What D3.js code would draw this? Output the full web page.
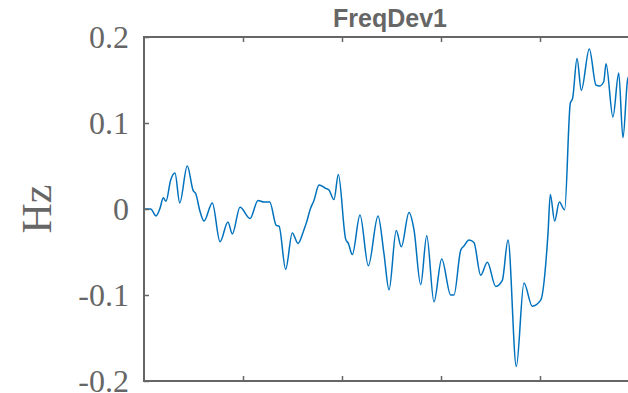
<!DOCTYPE html>
<html>
<head>
<meta charset="utf-8">
<script src="https://cdn.jsdelivr.net/npm/d3@7"></script>
<style>
  html, body { margin: 0; padding: 0; background: #fff; overflow: hidden; }
  svg { display: block; }
</style>
</head>
<body>
<svg id="chart" width="628" height="393"></svg>
<script>
// ---- data ----
const title = "FreqDev1";
const yLabel = "Hz";
const yTicks = [-0.2, -0.1, 0, 0.1, 0.2];
const yTickLabels = ["-0.2", "-0.1", "0", "0.1", "0.2"];
const xTicks = [1, 2, 3, 4];
const timeValues = [
  0, 0.068, 0.121, 0.162, 0.195, 0.222, 0.270, 0.313, 0.361, 0.437,
  0.498, 0.522, 0.566, 0.606, 0.690, 0.768, 0.848, 0.892, 0.970, 1.071,
  1.152, 1.212, 1.270, 1.336, 1.364, 1.431, 1.498, 1.556, 1.616, 1.643,
  1.677, 1.717, 1.768, 1.835, 1.869, 1.919, 1.963, 2.037, 2.064, 2.104,
  2.182, 2.266, 2.364, 2.424, 2.475, 2.548, 2.599, 2.677, 2.727, 2.795,
  2.856, 2.929, 3.007, 3.098, 3.131, 3.199, 3.232, 3.283, 3.333, 3.401,
  3.468, 3.553, 3.619, 3.677, 3.761, 3.838, 3.922, 4.007, 4.081, 4.104,
  4.148, 4.195, 4.249, 4.306, 4.330, 4.374, 4.417, 4.498, 4.566, 4.599,
  4.644, 4.667, 4.737, 4.795, 4.838, 4.886, 4.930
];
const freqDev = [
  0, 0, -0.008, 0.001, 0.013, 0.009, 0.034, 0.042, 0.007, 0.050,
  0.021, 0.018, -0.003, -0.014, 0.007, -0.038, -0.015, -0.029, 0.002, -0.011,
  0.010, 0.008, 0.008, -0.019, -0.020, -0.070, -0.028, -0.040, -0.024, -0.015,
  -0.001, 0.010, 0.028, 0.024, 0.022, 0.011, 0.040, -0.035, -0.040, -0.053,
  -0.007, -0.066, -0.008, -0.052, -0.094, -0.025, -0.044, -0.004, -0.024, -0.088,
  -0.031, -0.108, -0.058, -0.100, -0.100, -0.048, -0.043, -0.036, -0.039, -0.077,
  -0.062, -0.090, -0.083, -0.036, -0.183, -0.086, -0.113, -0.106, -0.028, 0.017,
  -0.014, 0.008, -0.001, 0.123, 0.129, 0.175, 0.138, 0.186, 0.144, 0.143,
  0.148, 0.169, 0.107, 0.158, 0.083, 0.151, 0.160
];

// ---- layout ----
const svg = d3.select("#chart");
const mLeft = 144, mRight = 639, mTop = 37, mBottom = 381;
const axisColor = "#666666";

const x = d3.scaleLinear().domain([0, 5]).range([mLeft, mRight]);
const y = d3.scaleLinear().domain([-0.2, 0.2]).range([mBottom, mTop]);

const defs = svg.append("defs");
defs.append("clipPath").attr("id", "plotclip")
  .append("rect").attr("x", mLeft).attr("y", mTop)
  .attr("width", mRight - mLeft).attr("height", mBottom - mTop);

// line
const pts = timeValues.map((t, i) => [t, freqDev[i]]);
const line = d3.line()
  .x(d => x(d[0]))
  .y(d => y(d[1]))
  .curve(d3.curveMonotoneX);

svg.append("path")
  .datum(pts)
  .attr("clip-path", "url(#plotclip)")
  .attr("fill", "none")
  .attr("stroke", "#0072BD")
  .attr("stroke-width", 1.5)
  .attr("stroke-linejoin", "round")
  .attr("d", line);

// axes (box style, inward ticks)
const tickLen = 5;
const yAxis = d3.axisRight(y).tickValues(yTicks).tickSize(tickLen).tickFormat("");
const gY = svg.append("g").attr("transform", `translate(${mLeft},0)`).call(yAxis);
gY.select(".domain").remove();
gY.selectAll(".tick line").attr("stroke", axisColor).attr("stroke-width", 1.5);

const xBottom = d3.axisTop(x).tickValues(xTicks).tickSize(tickLen).tickFormat("");
const gXB = svg.append("g").attr("transform", `translate(0,${mBottom})`).call(xBottom);
gXB.select(".domain").remove();
gXB.selectAll(".tick line").attr("stroke", axisColor).attr("stroke-width", 1.5);

const xTop = d3.axisBottom(x).tickValues(xTicks).tickSize(tickLen).tickFormat("");
const gXT = svg.append("g").attr("transform", `translate(0,${mTop})`).call(xTop);
gXT.select(".domain").remove();
gXT.selectAll(".tick line").attr("stroke", axisColor).attr("stroke-width", 1.5);

// box lines
svg.append("line").attr("x1", mLeft).attr("x2", mLeft).attr("y1", mTop - 1).attr("y2", mBottom + 1)
  .attr("stroke", axisColor).attr("stroke-width", 2);
svg.append("line").attr("x1", mLeft).attr("x2", mRight).attr("y1", mTop).attr("y2", mTop)
  .attr("stroke", axisColor).attr("stroke-width", 2);
svg.append("line").attr("x1", mLeft).attr("x2", mRight).attr("y1", mBottom).attr("y2", mBottom)
  .attr("stroke", axisColor).attr("stroke-width", 2);

// y tick labels
svg.append("g").selectAll("text")
  .data(yTicks)
  .join("text")
  .attr("x", mLeft - 15)
  .attr("y", d => y(d))
  .attr("dy", "0.34em")
  .attr("text-anchor", "end")
  .attr("font-family", "'Liberation Serif', 'Times New Roman', serif")
  .attr("font-size", 32)
  .attr("fill", axisColor)
  .text((d, i) => yTickLabels[i]);

// y label
svg.append("text")
  .attr("transform", `translate(51,${(mTop + mBottom) / 2}) rotate(-90)`)
  .attr("text-anchor", "middle")
  .attr("font-family", "'Liberation Serif', 'Times New Roman', serif")
  .attr("font-size", 42)
  .attr("fill", axisColor)
  .text(yLabel);

// title
svg.append("text")
  .attr("x", 390)
  .attr("y", 27)
  .attr("text-anchor", "middle")
  .attr("font-family", "'Liberation Sans', Arial, sans-serif")
  .attr("font-weight", "bold")
  .attr("font-size", 25)
  .attr("fill", axisColor)
  .text(title);
</script>
</body>
</html>
